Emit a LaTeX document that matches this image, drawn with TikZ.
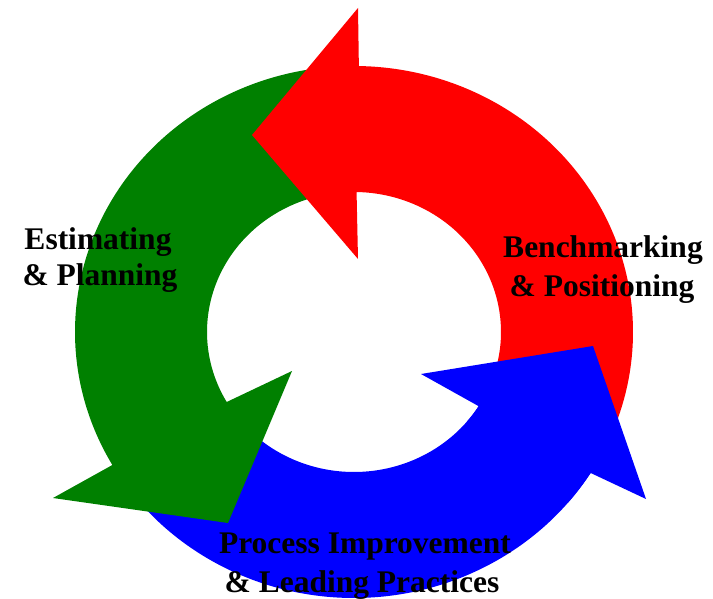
\documentclass[tikz,border=0pt]{standalone}
\usepackage{fontspec}
\setmainfont{Liberation Serif}
\usetikzlibrary{calc}
\definecolor{ringred}{HTML}{FF0000}
\definecolor{ringgreen}{HTML}{008000}
\definecolor{ringblue}{HTML}{0000FF}
\tikzset{
  lbl/.style={font=\fontsize{31.5}{37}\selectfont\bfseries, text=black, inner sep=0pt, anchor=base},
}
\newcommand{\ORX}{279}
\newcommand{\ORY}{266}
\newcommand{\IRX}{147}
\newcommand{\IRY}{140}
\begin{document}
\begin{tikzpicture}[x=1pt,y=1pt]
\fill[white] (0,-599) rectangle (713,0);
\useasboundingbox (0,-599) rectangle (713,0);
\coordinate (C) at (354,-332);
% blue body (bottom)
\fill[ringblue] ($(C)+(215:\ORX\space and \ORY)$) arc[start angle=215, end angle=328, x radius=\ORX, y radius=\ORY]
  -- ($(C)+(328:\IRX\space and \IRY)$) arc[start angle=328, end angle=215, x radius=\IRX, y radius=\IRY] -- cycle;
% green arrow (left)
\coordinate (gw1) at (53,-498);
\coordinate (gtip) at (228,-523);
\coordinate (gw2) at (292,-371);
\fill[ringgreen] ($(C)+(95:\ORX\space and \ORY)$) arc[start angle=95, end angle=210, x radius=\ORX, y radius=\ORY]
  -- (gw1) -- (gtip) -- (gw2)
  -- ($(C)+(210:\IRX\space and \IRY)$) arc[start angle=210, end angle=95, x radius=\IRX, y radius=\IRY] -- cycle;
% red arrow (top right)
\coordinate (rw1) at (358,-8);
\coordinate (rtip) at (252,-135);
\coordinate (rw2) at (358,-259);
\fill[ringred] ($(C)+(-25:\ORX\space and \ORY)$) arc[start angle=-25, end angle=89, x radius=\ORX, y radius=\ORY]
  -- (rw1) -- (rtip) -- (rw2)
  -- ($(C)+(89:\IRX\space and \IRY)$) arc[start angle=89, end angle=-25, x radius=\IRX, y radius=\IRY] -- cycle;
% blue head (over red)
\coordinate (bw1) at (646,-499);
\coordinate (btip) at (593,-346);
\coordinate (bw2) at (421,-374);
\fill[ringblue] ($(C)+(320:\ORX\space and \ORY)$) arc[start angle=320, end angle=328, x radius=\ORX, y radius=\ORY]
  -- (bw1) -- (btip) -- (bw2)
  -- ($(C)+(328:\IRX\space and \IRY)$) arc[start angle=328, end angle=320, x radius=\IRX, y radius=\IRY] -- cycle;
% labels
\node[lbl] (est1) at (98,-250) {Estimating};
\node[lbl] (est2) at (100,-286) {\& Planning};
\node[lbl] (ben1) at (603,-258) {Benchmarking};
\node[lbl] (ben2) at (602,-296) {\& Positioning};
\node[lbl] (pro1) at (365,-553) {Process Improvement};
\node[lbl] (pro2) at (362,-592) {\& Leading Practices};
\end{tikzpicture}
\end{document}
